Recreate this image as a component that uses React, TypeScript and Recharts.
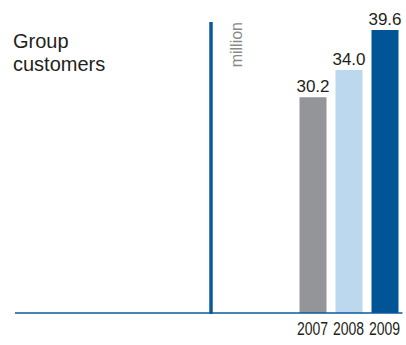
import React from 'react';
import { BarChart, Bar, XAxis, YAxis, Cell, LabelList, Customized } from 'recharts';

const years = ['2007', '2008', '2009'];
const customers = [30.2, 34.0, 39.6];
const barColors = ['#939598', '#bcd8ef', '#005596'];

const data = years.map((year, i) => ({ year, value: customers[i] }));

const TEXT = '#231f20';
const BLUE = '#0b5a9c';

// condensed year labels: narrow font stretched vertically
const YearTick = ({ x, y, payload }: any) => (
  <g transform={`translate(${x}, ${y + 14}) scale(1, 1.35)`}>
    <text
      x={0}
      y={0}
      textAnchor="middle"
      fill={TEXT}
      fontSize={14}
      fontFamily="'Liberation Sans Narrow', 'Liberation Sans', sans-serif"
    >
      {payload.value}
    </text>
  </g>
);

const Decor = () => (
  <g>
    <text x={13} y={48} fill={TEXT} fontSize={20} fontFamily="'Liberation Sans', sans-serif">
      Group
    </text>
    <text x={13} y={71} fill={TEXT} fontSize={20} fontFamily="'Liberation Sans', sans-serif">
      customers
    </text>
    <line x1={211} y1={22} x2={211} y2={314} stroke={BLUE} strokeWidth={3.5} />
    <text
      x={242}
      y={22}
      fill="#8a8a8a"
      fontSize={16}
      fontFamily="'Liberation Sans', sans-serif"
      textAnchor="end"
      transform="rotate(-90 242 22)"
    >
      million
    </text>
  </g>
);

const App: React.FC = () => {
  return (
    <div style={{ position: 'absolute', left: 0, top: 0, width: 406, height: 345, background: '#fff' }}>
      <BarChart
        width={406}
        height={345}
        data={data}
        margin={{ top: 30, right: 3.5, bottom: 2, left: 15 }}
      >
        <XAxis
          dataKey="year"
          height={30}
          padding={{ left: 279.5, right: 0 }}
          axisLine={{ stroke: BLUE, strokeWidth: 1.5 }}
          tickLine={false}
          tick={<YearTick />}
          interval={0}
        />
        <YAxis hide domain={[0, 39.6]} />
        <Bar dataKey="value" barSize={27} isAnimationActive={false}>
          {data.map((d, i) => (
            <Cell key={d.year} fill={barColors[i]} />
          ))}
          <LabelList
            dataKey="value"
            position="top"
            offset={5}
            fill={TEXT}
            fontSize={17}
            fontFamily="'Liberation Sans', sans-serif"
            formatter={(v: any) => Number(v).toFixed(1)}
          />
        </Bar>
        <Customized component={<Decor />} />
      </BarChart>
    </div>
  );
};

export default App;
